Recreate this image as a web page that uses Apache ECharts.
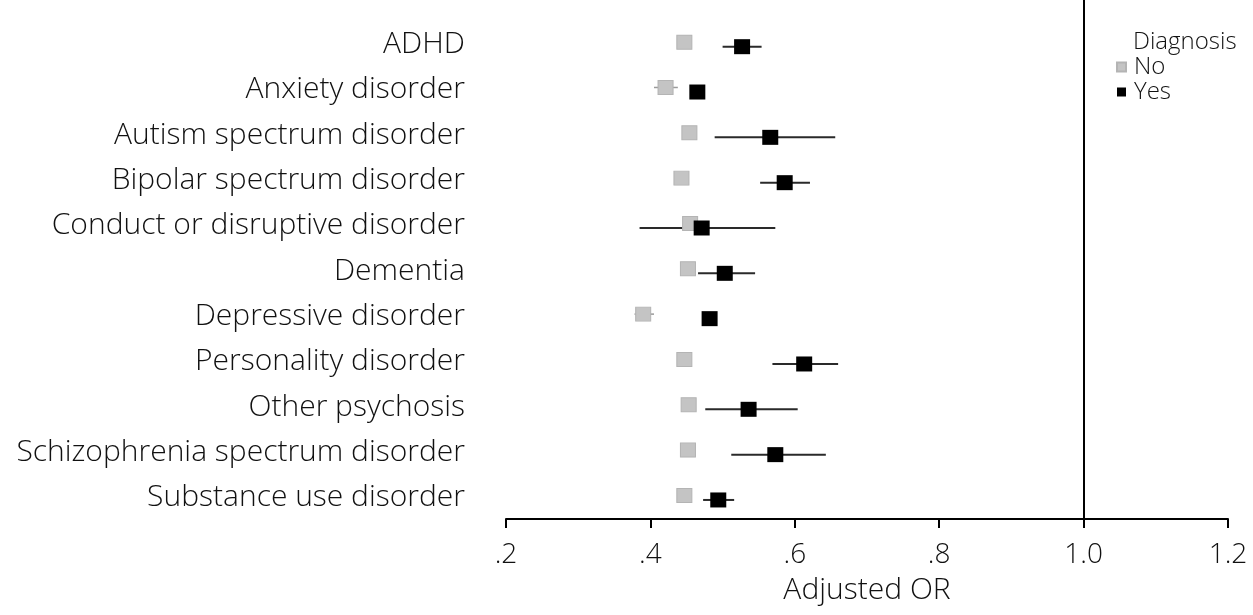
<!DOCTYPE html>
<html>
<head>
<meta charset="utf-8">
<script src="https://cdn.jsdelivr.net/npm/echarts@6/dist/echarts.min.js"></script>
<style>
html,body{margin:0;padding:0;background:#fff;}
#chart{width:1253px;height:615px;}
</style>
</head>
<body>
<div id="chart"></div>
<script>
var categories = ['ADHD','Anxiety disorder','Autism spectrum disorder','Bipolar spectrum disorder','Conduct or disruptive disorder','Dementia','Depressive disorder','Personality disorder','Other psychosis','Schizophrenia spectrum disorder','Substance use disorder'];
var noOR  = [0.447,0.421,0.454,0.443,0.455,0.452,0.390,0.447,0.453,0.452,0.447];
var noLo  = [0.440,0.405,0.447,0.436,0.447,0.444,0.378,0.440,0.446,0.445,0.440];
var noHi  = [0.454,0.438,0.461,0.450,0.463,0.460,0.405,0.454,0.460,0.459,0.454];
var yesOR = [0.527,0.465,0.566,0.586,0.471,0.503,0.482,0.613,0.536,0.573,0.494];
var yesLo = [0.500,0.458,0.489,0.552,0.385,0.466,0.475,0.569,0.476,0.512,0.473];
var yesHi = [0.554,0.472,0.656,0.621,0.573,0.545,0.489,0.660,0.604,0.643,0.516];
var xTickValues = [0.2,0.4,0.6,0.8,1.0,1.2];
var xTickLabels = ['.2','.4','.6','.8','1.0','1.2'];
var refLine = 1.0;

var FONT = '"Open Sans", Lato, sans-serif';
var WEIGHT = 300;
var OFF = 0.05;

function ciData(lo, hi, off){
  return categories.map(function(c,i){ return [lo[i], hi[i], i+off]; });
}
function ptData(v, off){
  return categories.map(function(c,i){ return [v[i], i+off]; });
}
function ciRender(color, width){
  return function(params, api){
    var a = api.coord([api.value(0), api.value(2)]);
    var b = api.coord([api.value(1), api.value(2)]);
    return {type:'line', shape:{x1:a[0],y1:a[1],x2:b[0],y2:b[1]}, style:{stroke:color, lineWidth:width}};
  };
}

var chart = echarts.init(document.getElementById('chart'), null, {renderer:'canvas'});
chart.setOption({
  animation:false,
  backgroundColor:'#fff',
  title:{text:'Diagnosis', left:1133, top:30, padding:0,
    textStyle:{fontFamily:FONT, fontSize:24, fontWeight:WEIGHT, color:'#111', lineHeight:24}},
  legend:{
    data:['No','Yes'], orient:'vertical', left:1116, top:55, padding:0,
    itemWidth:9, itemHeight:9, itemGap:1, icon:'rect',
    textStyle:{fontFamily:FONT, fontSize:24, fontWeight:WEIGHT, color:'#111', lineHeight:20, padding:[0,0,0,3]}
  },
  grid:{left:506, right:25, top:0, bottom:96, containLabel:false},
  xAxis:{
    type:'value', min:0.2, max:1.2, interval:0.2,
    name:'Adjusted OR', nameLocation:'middle', nameGap:56,
    nameTextStyle:{fontFamily:FONT, fontSize:30, fontWeight:WEIGHT, color:'#111'},
    axisLine:{show:true, onZero:false, lineStyle:{color:'#000', width:2}},
    axisTick:{show:true, length:9, lineStyle:{color:'#000', width:2}},
    axisLabel:{margin:22, fontFamily:FONT, fontSize:28, fontWeight:WEIGHT, color:'#111',
      formatter:function(v){ var i = Math.round((v - xTickValues[0]) / 0.2); return xTickLabels[i] || ''; }},
    splitLine:{show:false}
  },
  yAxis:{
    type:'value', inverse:true, min:-0.98, max:10.47,
    axisLine:{show:false}, axisTick:{show:false}, splitLine:{show:false},
    axisLabel:{
      customValues: categories.map(function(c,i){return i;}),
      margin:41, fontFamily:FONT, fontSize:30, fontWeight:WEIGHT, color:'#111',
      formatter:function(v){ return categories[Math.round(v)]; }
    }
  },
  series:[
    {name:'noCI', type:'custom', data:ciData(noLo,noHi,-OFF), renderItem:ciRender('#9a9a9a',1.5), z:1, silent:true},
    {name:'yesCI', type:'custom', data:ciData(yesLo,yesHi,OFF), renderItem:ciRender('#2a2a2a',2), z:1, silent:true},
    {name:'No', type:'scatter', data:ptData(noOR,-OFF), symbol:'rect', symbolSize:[15,14],
      itemStyle:{color:'#c4c4c4', borderColor:'#b4b4b4', borderWidth:1, opacity:1}, z:2},
    {name:'Yes', type:'scatter', data:ptData(yesOR,OFF), symbol:'rect', symbolSize:[16,15],
      itemStyle:{color:'#000', opacity:1}, z:3,
      markLine:{silent:true, symbol:'none', label:{show:false}, lineStyle:{color:'#000', width:2, type:'solid'},
        data:[{xAxis:refLine}]}}
  ]
});
</script>
</body>
</html>
